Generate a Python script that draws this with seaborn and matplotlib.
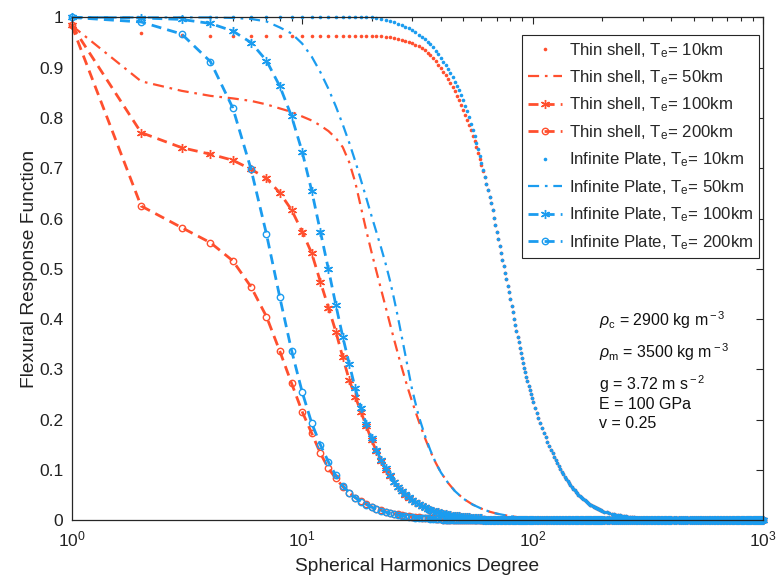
import matplotlib
matplotlib.use('Agg')
import matplotlib.pyplot as plt
import seaborn as sns
from matplotlib.ticker import LogLocator, NullFormatter, FixedLocator, LogFormatterMathtext

# ---------------- data ----------------
# common degree grid for the marker series
DEG = (list(range(1, 101)) + list(range(102, 201, 2))
       + list(range(205, 401, 5)) + list(range(410, 1001, 10)))

# Infinite plate, Te = 10 km (values on DEG)
ip10 = ([1.000] * 20 +
        [0.998, 0.997, 0.995, 0.993, 0.990, 0.987, 0.984, 0.981, 0.978, 0.975,
         0.971, 0.966, 0.961, 0.957, 0.952, 0.947, 0.941, 0.934, 0.927, 0.920,
         0.912, 0.905, 0.898, 0.890, 0.881, 0.872, 0.864, 0.855, 0.845, 0.835,
         0.824, 0.813, 0.801, 0.789, 0.777, 0.764, 0.751, 0.738, 0.724, 0.710,
         0.697, 0.683, 0.669, 0.656, 0.643, 0.630, 0.617, 0.602, 0.588, 0.574,
         0.560, 0.546, 0.532, 0.518, 0.505, 0.492, 0.479, 0.466, 0.453, 0.440,
         0.427, 0.414, 0.401, 0.389, 0.377, 0.365, 0.354, 0.343, 0.333, 0.323,
         0.313, 0.303, 0.294, 0.285, 0.276, 0.267, 0.259, 0.251, 0.243, 0.236] +
        [0.224, 0.213, 0.203, 0.193, 0.183, 0.174, 0.165, 0.156, 0.148, 0.140,
         0.133, 0.126, 0.119, 0.113, 0.107, 0.101, 0.096, 0.091, 0.086, 0.082,
         0.078, 0.074, 0.070, 0.066, 0.063, 0.060, 0.057, 0.054, 0.051, 0.048,
         0.046, 0.044, 0.042, 0.040, 0.038, 0.036, 0.034, 0.033, 0.031, 0.030,
         0.028, 0.027, 0.026, 0.025, 0.024, 0.023, 0.022, 0.021, 0.020, 0.019] +
        [0.017, 0.016, 0.014, 0.013, 0.012, 0.011, 0.010, 0.0095, 0.009, 0.008,
         0.0075, 0.007, 0.0065, 0.006, 0.0055, 0.005, 0.005, 0.0045, 0.004, 0.004] +
        [0.0035] * 5 + [0.003] * 5 + [0.0025] * 5 + [0.002] * 5 +
        [0.0] * 60)

# Thin shell, Te = 10 km: degrees 1..65, identical to the plate curve afterwards
ts10_head = ([0.985, 0.970, 0.966, 0.964] + [0.963] * 18 + [0.962, 0.961, 0.960] +
             [0.958, 0.956, 0.954, 0.952, 0.949, 0.946, 0.943, 0.939, 0.935, 0.930,
              0.925, 0.919, 0.913, 0.906, 0.899, 0.892, 0.885, 0.877, 0.869, 0.861,
              0.853, 0.844, 0.835, 0.826, 0.816, 0.806, 0.796, 0.786, 0.776, 0.765,
              0.754, 0.743, 0.731, 0.719, 0.707, 0.695, 0.682, 0.669, 0.656, 0.643])
ts10 = ts10_head + ip10[len(ts10_head):]

# Te = 100 km, degrees 1..60 (zero afterwards)
ts100_head = [0.984, 0.771, 0.741, 0.728, 0.716, 0.698, 0.680, 0.651, 0.617, 0.574,
              0.531, 0.474, 0.423, 0.375, 0.324, 0.279, 0.246, 0.215, 0.187, 0.160,
              0.137, 0.117, 0.100, 0.087, 0.076, 0.066, 0.058, 0.051, 0.045, 0.040,
              0.036, 0.032, 0.029, 0.026, 0.023, 0.021, 0.019, 0.017, 0.016, 0.014,
              0.013, 0.012, 0.011, 0.010, 0.009, 0.009, 0.008, 0.008, 0.007, 0.007,
              0.006, 0.006, 0.006, 0.005, 0.005, 0.005, 0.004, 0.004, 0.004, 0.004]
ip100_head = [1.000, 0.999, 0.996, 0.988, 0.973, 0.950, 0.914, 0.863, 0.803, 0.733,
              0.655, 0.574, 0.499, 0.428, 0.365, 0.311, 0.262, 0.223, 0.191, 0.164,
              0.140, 0.120, 0.103, 0.089, 0.077, 0.067, 0.059, 0.052, 0.046, 0.041,
              0.036, 0.032, 0.029, 0.026, 0.023, 0.021, 0.019, 0.017, 0.016, 0.014,
              0.013, 0.012, 0.011, 0.010, 0.009, 0.009, 0.008, 0.008, 0.007, 0.007,
              0.006, 0.006, 0.006, 0.005, 0.005, 0.005, 0.004, 0.004, 0.004, 0.004]

# Te = 200 km, degrees 1..40 (zero afterwards)
ts200_head = [0.984, 0.625, 0.582, 0.552, 0.516, 0.464, 0.405, 0.336, 0.272, 0.216,
              0.173, 0.133, 0.103, 0.083, 0.067, 0.054, 0.045, 0.038, 0.032, 0.027,
              0.023, 0.020, 0.017, 0.015, 0.013, 0.012, 0.010, 0.009, 0.008, 0.007,
              0.006, 0.006, 0.005, 0.005, 0.004, 0.004, 0.004, 0.003, 0.003, 0.003]
ip200_head = [1.000, 0.991, 0.967, 0.912, 0.820, 0.698, 0.569, 0.443, 0.337, 0.255,
              0.193, 0.150, 0.116, 0.089, 0.069, 0.055, 0.045, 0.037, 0.031, 0.026,
              0.022, 0.019, 0.016, 0.014, 0.012, 0.010, 0.009, 0.008, 0.007, 0.006,
              0.005, 0.005, 0.004, 0.004, 0.004, 0.003, 0.003, 0.003, 0.002, 0.002]

ts100 = ts100_head + [0.0] * (len(DEG) - len(ts100_head))
ip100 = ip100_head + [0.0] * (len(DEG) - len(ip100_head))
ts200 = ts200_head + [0.0] * (len(DEG) - len(ts200_head))
ip200 = ip200_head + [0.0] * (len(DEG) - len(ip200_head))

# Te = 50 km (plain dash-dot lines)
DEG50 = list(range(1, 31)) + [32, 34, 36, 38, 40, 43, 46, 50, 55, 60, 65, 70,
                              80, 90, 100, 120, 150, 200, 300, 500, 1000]
ts50 = [0.984, 0.873, 0.854, 0.844, 0.839, 0.834, 0.827, 0.819, 0.812, 0.803,
        0.795, 0.785, 0.774, 0.760, 0.742, 0.712, 0.672, 0.622, 0.575, 0.533,
        0.495, 0.459, 0.425, 0.392, 0.361, 0.332, 0.305, 0.280, 0.257, 0.236,
        0.198, 0.165, 0.137, 0.114, 0.095, 0.074, 0.058, 0.043, 0.031, 0.023,
        0.017, 0.013, 0.008, 0.005, 0.003, 0.0015, 0.0007, 0.0003, 0.0, 0.0, 0.0]
ip50 = [1.000, 1.000, 1.000, 1.000, 0.999, 0.997, 0.992, 0.980, 0.968, 0.948,
        0.922, 0.891, 0.858, 0.823, 0.787, 0.751, 0.714, 0.676, 0.640, 0.605,
        0.573, 0.542, 0.511, 0.478, 0.442, 0.405, 0.367, 0.330, 0.294, 0.260,
        0.208, 0.170, 0.139, 0.114, 0.095, 0.074, 0.058, 0.043, 0.031, 0.023,
        0.017, 0.013, 0.008, 0.005, 0.003, 0.0015, 0.0007, 0.0003, 0.0, 0.0, 0.0]

LABELS = [r'Thin shell, T$_{\rm e}$= 10km', r'Thin shell, T$_{\rm e}$= 50km',
          r'Thin shell, T$_{\rm e}$= 100km', r'Thin shell, T$_{\rm e}$= 200km',
          r'Infinite Plate, T$_{\rm e}$= 10km', r'Infinite Plate, T$_{\rm e}$= 50km',
          r'Infinite Plate, T$_{\rm e}$= 100km', r'Infinite Plate, T$_{\rm e}$= 200km']
YTICKS = [0, 0.1, 0.2, 0.3, 0.4, 0.5, 0.6, 0.7, 0.8, 0.9, 1.0]
YTICK_LABELS = ['0', '0.1', '0.2', '0.3', '0.4', '0.5', '0.6', '0.7', '0.8', '0.9', '1']
NOTES = [r'$\rho_{\rm c}$ = 2900 kg m$^{\rm -3}$', r'$\rho_{\rm m}$ = 3500 kg m$^{\rm -3}$',
         r'g = 3.72 m s$^{\rm -2}$', 'E = 100 GPa', 'v = 0.25']

# ---------------- style ----------------
sns.set_style('white')
plt.rcParams['font.family'] = ['Liberation Sans', 'DejaVu Sans']
plt.rcParams['mathtext.fontset'] = 'custom'
plt.rcParams['mathtext.rm'] = 'Liberation Sans'
plt.rcParams['mathtext.it'] = 'Liberation Sans:italic'
plt.rcParams['mathtext.bf'] = 'Liberation Sans:bold'

RED = '#FF4F2E'
BLUE = '#1B9CEF'
AX_COL = '#262626'

fig = plt.figure(figsize=(7.78, 5.81), dpi=100)
ax = fig.add_axes([0.0922, 0.1046, 0.8886, 0.8654])

DASH = (0, (3.6, 2.2))
DASHDOT = (0, (5.0, 2.6, 1.2, 2.6))


def draw(x, y, color, **kw):
    sns.lineplot(x=x, y=y, ax=ax, sort=False, estimator=None, color=color,
                 legend=False, clip_on=False, **kw)


dot_kw = dict(linestyle='none', marker='o', markersize=2.6,
              markeredgewidth=0)
star = (6, 2, 0)

# thin shell
draw(DEG, ts10, RED, markeredgecolor=RED, **dot_kw)
draw(DEG50, ts50, RED, linestyle=DASHDOT, linewidth=1.6)
draw(DEG, ts100, RED, linestyle=DASH, linewidth=2.0, marker=star, markersize=6.5,
     markeredgewidth=1.0, markeredgecolor=RED)
draw(DEG, ts200, RED, linestyle=DASH, linewidth=2.0, marker='o', markersize=4.6,
     markeredgewidth=1.0, markeredgecolor=RED, markerfacecolor='none')
# infinite plate
draw(DEG, ip10, BLUE, markeredgecolor=BLUE, **dot_kw)
draw(DEG50, ip50, BLUE, linestyle=DASHDOT, linewidth=1.6)
draw(DEG, ip100, BLUE, linestyle=DASH, linewidth=2.0, marker=star, markersize=6.5,
     markeredgewidth=1.0, markeredgecolor=BLUE)
draw(DEG, ip200, BLUE, linestyle=DASH, linewidth=2.0, marker='o', markersize=4.6,
     markeredgewidth=1.0, markeredgecolor=BLUE, markerfacecolor='none')

# ---------------- axes ----------------
ax.set_xscale('log')
ax.set_xlim(1, 1000)
ax.set_ylim(0, 1)
ax.xaxis.set_major_locator(LogLocator(base=10, numticks=10))
ax.xaxis.set_major_formatter(LogFormatterMathtext())
ax.xaxis.set_minor_locator(LogLocator(base=10, subs=range(2, 10), numticks=20))
ax.xaxis.set_minor_formatter(NullFormatter())
ax.yaxis.set_major_locator(FixedLocator(YTICKS))
ax.set_yticklabels(YTICK_LABELS)

for s in ax.spines.values():
    s.set_color(AX_COL)
    s.set_linewidth(0.9)
    s.set_visible(True)
ax.tick_params(which='both', direction='in', top=True, right=True,
               color=AX_COL, labelcolor='#222222', width=0.8)
ax.tick_params(which='major', length=4.8, labelsize=12.5, pad=6)
ax.tick_params(which='minor', length=3.2)
ax.tick_params(axis='x', which='major', pad=7)

ax.set_xlabel('Spherical Harmonics Degree', fontsize=13.8, color='#222222', labelpad=6)
ax.set_ylabel('Flexural Response Function', fontsize=13.8, color='#222222', labelpad=1)

# legend
lines = ax.get_lines()
leg = ax.legend(handles=lines, labels=LABELS, loc='upper left',
                bbox_to_anchor=(0.652, 0.965), fontsize=12.1, frameon=True,
                fancybox=False, framealpha=1, edgecolor=AX_COL, facecolor='white',
                handlelength=2.0, handletextpad=0.4, labelspacing=0.52,
                borderpad=0.35, borderaxespad=0, numpoints=1)
leg.get_frame().set_linewidth(0.8)

# annotations
ypos = [0.398, 0.334, 0.271, 0.231, 0.193]
for t, yy in zip(NOTES, ypos):
    ax.text(0.762, yy, t, transform=ax.transAxes, ha='left', va='center',
            fontsize=11.5, color='#111111')

fig.savefig('out.png', dpi=100)
